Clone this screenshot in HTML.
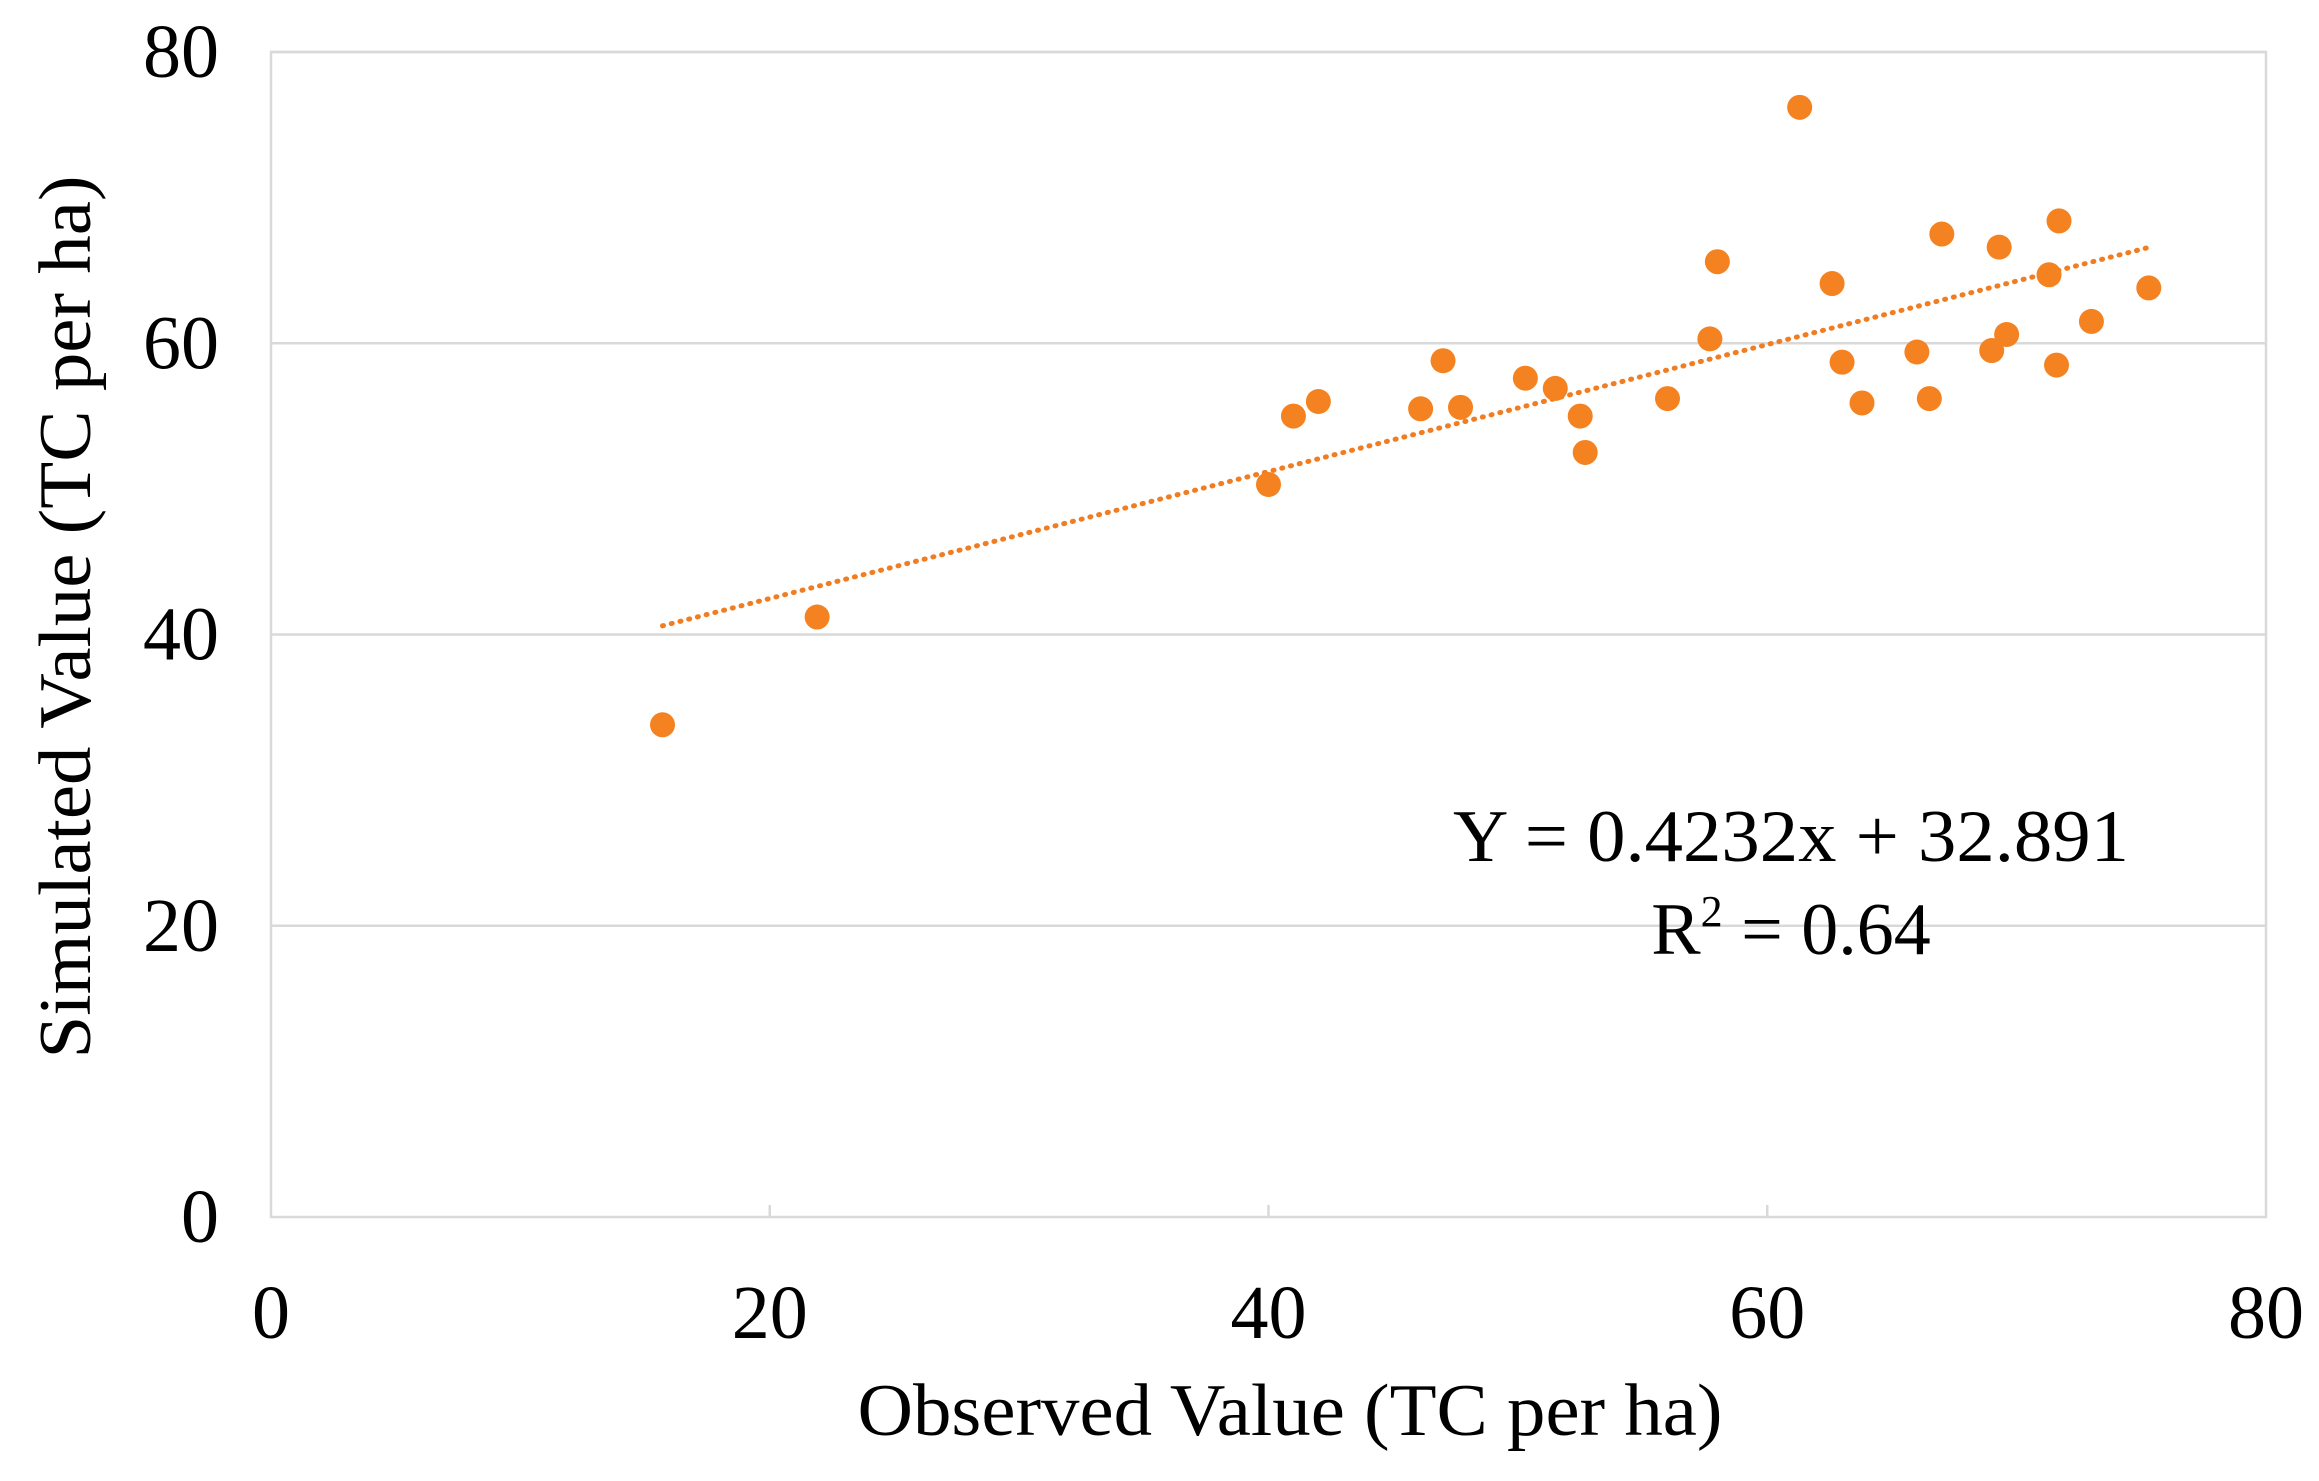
<!DOCTYPE html>
<html><head><meta charset="utf-8"><style>
html,body{margin:0;padding:0;background:#fff;}
svg{display:block;font-family:"Liberation Serif",serif;}
</style></head><body>
<svg id="chart" width="2319" height="1481" viewBox="0 0 2319 1481" xmlns="http://www.w3.org/2000/svg">
<g id="grid"></g>
<g id="axes"></g>
<g id="trend"></g>
<g id="points"></g>
<text x="1290" y="1435" text-anchor="middle" font-size="74" textLength="865" lengthAdjust="spacingAndGlyphs">Observed Value (TC per ha)</text>
<text transform="translate(90,617) rotate(-90)" text-anchor="middle" font-size="74" textLength="883" lengthAdjust="spacingAndGlyphs">Simulated Value (TC per ha)</text>
<text x="1791" y="861" text-anchor="middle" font-size="74" textLength="676" lengthAdjust="spacingAndGlyphs">Y = 0.4232x + 32.891</text>
<text x="1791" y="954" text-anchor="middle" font-size="74">R<tspan font-size="44" dy="-28">2</tspan><tspan dy="28"> = 0.64</tspan></text>
</svg>
<script>
const xTicks=[0,20,40,60,80];
const yTicks=[0,20,40,60,80];
const obsValues=[15.7,21.9,40.0,41.0,42.0,46.1,47.0,47.7,50.3,51.5,52.5,52.7,56.0,57.7,58.0,61.3,62.6,63.0,63.8,66.0,66.5,67.0,69.0,69.3,69.6,71.3,71.6,71.7,73.0,75.3];
const simValues=[33.8,41.2,50.3,55.0,56.0,55.5,58.8,55.6,57.6,56.9,55.0,52.5,56.2,60.3,65.6,76.2,64.1,58.7,55.9,59.4,56.2,67.5,59.5,66.6,60.6,64.7,58.5,68.4,61.5,63.8];
const trendCoef=[0.436,33.75];

const L=271,R=2266,T=52,B=1217;
const NS="http://www.w3.org/2000/svg";
const xs=v=>L+(v-0)/(80-0)*(R-L);
const ys=v=>B-(v-0)/(80-0)*(B-T);
function mk(tag,attrs,parent){const e=document.createElementNS(NS,tag);for(const k in attrs)e.setAttribute(k,attrs[k]);parent.appendChild(e);return e;}
const grid=document.getElementById('grid'),axes=document.getElementById('axes'),trend=document.getElementById('trend'),pts=document.getElementById('points');
yTicks.forEach(t=>{
  if(t>0){const g=mk('line',{x1:L,x2:R,y1:ys(t),y2:ys(t),stroke:'#d9d9d9','stroke-width':2.5},grid);
  
  }
  const tx=mk('text',{x:219,y:ys(t),'text-anchor':'end','dominant-baseline':'central','font-size':76},axes);
  tx.textContent=t;
  
  
});
xTicks.forEach(t=>{
  if(t>0&&t<80){const k=mk('line',{x1:xs(t),x2:xs(t),y1:B-12,y2:B,stroke:'#d9d9d9','stroke-width':2.5},axes);
  
  }
  const tx=mk('text',{x:xs(t),y:1313,'text-anchor':'middle','dominant-baseline':'central','font-size':76},axes);
  tx.textContent=t;
  
  
});
const frame=mk('rect',{x:L,y:T,width:R-L,height:B-T,fill:'none',stroke:'#d9d9d9','stroke-width':2.5},axes);


const xmin=Math.min(...obsValues),xmax=Math.max(...obsValues);
const tl=mk('line',{x1:xs(xmin),y1:ys(trendCoef[0]*xmin+trendCoef[1]),x2:xs(xmax),y2:ys(trendCoef[0]*xmax+trendCoef[1]),stroke:'#F07D22','stroke-width':5,'stroke-dasharray':'1 8','stroke-linecap':'round'},trend);


obsValues.forEach((v,i)=>{
  const c=mk('circle',{cx:xs(v),cy:ys(simValues[i]),r:12.5,fill:'#F58220'},pts);
  
  
});
</script>
</body></html>
